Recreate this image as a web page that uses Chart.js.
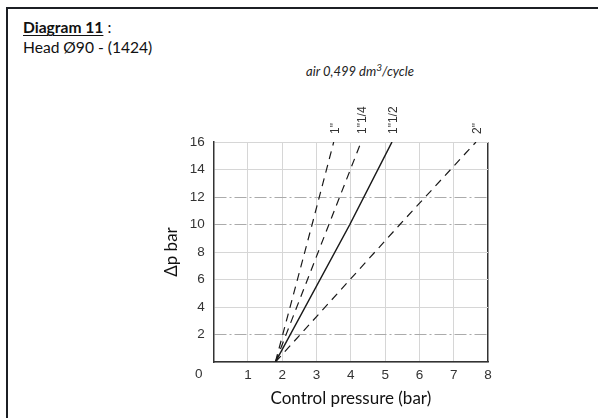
<!DOCTYPE html>
<html>
<head>
<meta charset="utf-8">
<script src="https://cdn.jsdelivr.net/npm/chart.js@4/dist/chart.umd.min.js"></script>
<style>
  html, body { margin: 0; padding: 0; background: #fff; }
  #wrap { position: relative; width: 598px; height: 418px; overflow: hidden; background: #fff; }
  #frame { position: absolute; left: 6px; top: 7px; right: -10px; bottom: -10px; border-top: 2px solid #1c1f24; border-left: 2px solid #1c1f24; }
  #head { position: absolute; left: 23px; top: 17px; font-family: Lato, "Open Sans", sans-serif; font-size: 15.6px; line-height: 20px; color: #111; }
  #head b u { text-decoration-thickness: 1px; text-underline-offset: 2px; }
  #sub { position: absolute; left: 290px; width: 140px; top: 59px; text-align: center; font-family: Lato, "Open Sans", sans-serif; font-style: italic; font-size: 13px; line-height: 16px; color: #222; }
  #sub .sup { font-size: 10px; vertical-align: 5px; }
  canvas { position: absolute; left: 0; top: 0; }
</style>
</head>
<body>
<div id="wrap">
  <div id="frame"></div>
  <div id="head"><b><u>Diagram 11</u></b> :<br>Head Ø90 - (1424)</div>
  <div id="sub">air 0,499 dm<span class="sup">3</span>/cycle</div>
  <canvas id="c" width="598" height="418"></canvas>
</div>
<script>
// ---- data ----
const seriesNames = ['1"', '1"1/4', '1"1/2', '2"'];
// control pressure (bar) at Δp = 0, 10, 16
const dpLevels = [0, 10, 16];
const pressure1 = [1.8, 2.87, 3.5];
const pressure1q = [1.8, 3.36, 4.3];
const pressure1h = [1.8, 3.97, 5.2];
const pressure2 = [1.8, 5.43, 7.65];
const xTickValues = [0, 1, 2, 3, 4, 5, 6, 7, 8];
const yTickValues = [0, 2, 4, 6, 8, 10, 12, 14, 16];
const dashDotLevels = [2, 10, 12];

const pressures = [pressure1, pressure1q, pressure1h, pressure2];
const styles = [
  { dash: [8, 6], width: 1.2 },
  { dash: [8, 6], width: 1.2 },
  { dash: [], width: 1.5 },
  { dash: [8, 6], width: 1.2 }
];

const datasets = seriesNames.map((name, i) => ({
  label: name,
  data: pressures[i].map((p, k) => ({ x: p, y: dpLevels[k] })),
  showLine: true,
  borderColor: '#1a1a1a',
  borderWidth: styles[i].width,
  borderDash: styles[i].dash,
  pointRadius: 0,
  fill: false,
  tension: 0
}));

const annot = {
  id: 'annot',
  afterDatasetsDraw(chart) {
    const { ctx, scales: { x, y } } = chart;
    ctx.save();
    ctx.fillStyle = '#333';
    ctx.font = '13.5px "Liberation Sans", Arial, sans-serif';
    ctx.textAlign = 'center';
    ctx.textBaseline = 'middle';
    ctx.fillText(String(xTickValues[0]), x.left - 15, y.bottom + 12);
    ctx.font = '12px "Liberation Sans", Arial, sans-serif';
    chart.data.datasets.forEach(ds => {
      const last = ds.data[ds.data.length - 1];
      const px = x.getPixelForValue(last.x) + 2;
      const py = y.getPixelForValue(last.y) - 8;
      ctx.save();
      ctx.translate(px, py);
      ctx.rotate(-Math.PI / 2);
      ctx.textAlign = 'left';
      ctx.textBaseline = 'middle';
      ctx.fillText(ds.label, 0, 0);
      ctx.restore();
    });
    ctx.restore();
  }
};

new Chart(document.getElementById('c'), {
  type: 'scatter',
  data: { datasets },
  options: {
    responsive: false,
    animation: false,
    layout: { padding: { left: 159, right: 110, top: 142, bottom: 0 } },
    plugins: { legend: { display: false }, tooltip: { enabled: false } },
    scales: {
      x: {
        type: 'linear',
        min: xTickValues[0],
        max: xTickValues[xTickValues.length - 1],
        afterFit(s) { s.height = 56; },
        afterBuildTicks(s) { s.ticks = xTickValues.map(v => ({ value: v })); },
        ticks: {
          padding: 5,
          color: '#333',
          font: { family: '"Liberation Sans", Arial, sans-serif', size: 13.5 },
          callback: v => (v === 0 ? '' : String(v))
        },
        grid: {
          drawTicks: false,
          color: c => (c.tick && c.tick.value === 8 ? '#333' : '#d6d6d6'),
          lineWidth: c => (c.tick && c.tick.value === 8 ? 1.5 : 1)
        },
        border: { color: '#333', width: 1.5 },
        title: {
          display: true,
          text: 'Control pressure (bar)',
          color: '#111',
          font: { family: 'Lato, "Open Sans", sans-serif', size: 17 },
          padding: { top: 0, bottom: 9 }
        }
      },
      y: {
        min: yTickValues[0],
        max: yTickValues[yTickValues.length - 1],
        afterFit(s) { s.width = 54.7; },
        afterBuildTicks(s) { s.ticks = yTickValues.map(v => ({ value: v })); },
        ticks: {
          padding: 9,
          color: '#333',
          font: { family: '"Liberation Sans", Arial, sans-serif', size: 13.5 },
          callback: v => (v === 0 ? '' : String(v))
        },
        grid: {
          drawTicks: false,
          color: c => (c.tick && dashDotLevels.includes(c.tick.value) ? '#ababab' : '#d6d6d6'),
          lineWidth: 1
        },
        border: {
          color: '#333',
          width: 1.5,
          dash: c => (c.tick && dashDotLevels.includes(c.tick.value) ? [12, 3, 2, 3] : [])
        },
        title: {
          display: true,
          text: 'Δp bar',
          color: '#111',
          font: { family: 'Lato, "Open Sans", sans-serif', size: 17 },
          padding: { top: 2, bottom: 0 }
        }
      }
    }
  },
  plugins: [annot]
});
</script>
</body>
</html>
